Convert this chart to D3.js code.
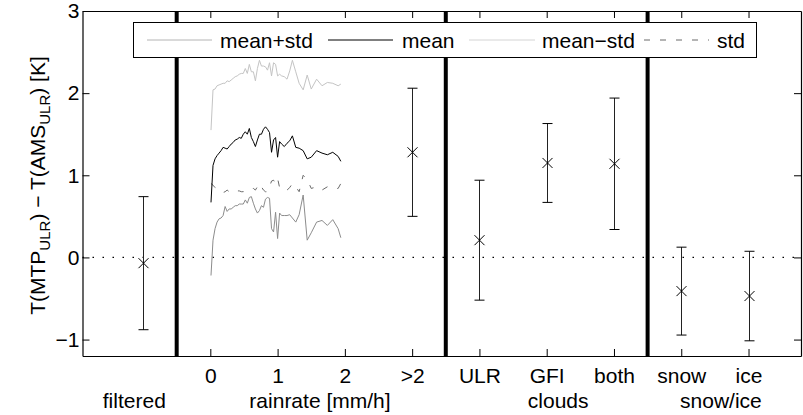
<!DOCTYPE html>
<html>
<head>
<meta charset="utf-8">
<script src="https://cdn.jsdelivr.net/npm/d3@7/dist/d3.min.js"></script>
<style>
  html, body { margin: 0; padding: 0; background: #fff; }
  svg { display: block; }
  text { font-family: "Liberation Sans", Arial, Helvetica, sans-serif; fill: #000; }
</style>
</head>
<body>
<svg id="chart" width="803" height="415"></svg>
<script>
// Rain-rate bins [mm/h] and the binned statistics of the temperature difference
const rainrate = [0.01, 0.04, 0.07, 0.10, 0.13, 0.16, 0.19, 0.22, 0.25, 0.28,
  0.31, 0.34, 0.37, 0.40, 0.43, 0.46, 0.49, 0.52, 0.55, 0.58,
  0.61, 0.64, 0.67, 0.70, 0.73, 0.76, 0.79, 0.82, 0.85, 0.88,
  0.91, 0.94, 0.97, 1.00, 1.03, 1.06, 1.10, 1.14, 1.18, 1.22,
  1.27, 1.32, 1.38, 1.44, 1.50, 1.58, 1.66, 1.74, 1.82, 1.90, 1.94];

const meanPlusStd = [1.55, 2.04, 2.05, 2.09, 2.10, 2.11, 2.12, 2.12, 2.15, 2.14,
  2.16, 2.18, 2.20, 2.21, 2.23, 2.24, 2.24, 2.30, 2.24, 2.35,
  2.26, 2.26, 2.15, 2.30, 2.40, 2.33, 2.33, 2.32, 2.28, 2.37,
  2.21, 2.37, 2.35, 2.21, 2.23, 2.21, 2.20, 2.17, 2.27, 2.40,
  2.26, 2.12, 2.04, 2.22, 2.05, 2.17, 2.09, 2.13, 2.12, 2.09, 2.11];

const meanVal = [0.67, 1.12, 1.20, 1.24, 1.27, 1.30, 1.34, 1.33, 1.32, 1.35,
  1.38, 1.40, 1.43, 1.44, 1.46, 1.45, 1.50, 1.53, 1.50, 1.57,
  1.46, 1.41, 1.35, 1.43, 1.50, 1.50, 1.56, 1.59, 1.56, 1.52,
  1.28, 1.43, 1.46, 1.22, 1.41, 1.38, 1.35, 1.39, 1.42, 1.48,
  1.34, 1.33, 1.30, 1.20, 1.22, 1.30, 1.27, 1.25, 1.28, 1.23, 1.17];

const meanMinusStd = [-0.22, 0.21, 0.35, 0.43, 0.47, 0.48, 0.51, 0.62, 0.56, 0.59,
  0.59, 0.61, 0.63, 0.63, 0.65, 0.65, 0.65, 0.70, 0.66, 0.73,
  0.74, 0.66, 0.59, 0.54, 0.57, 0.63, 0.61, 0.71, 0.73, 0.72,
  0.35, 0.31, 0.55, 0.23, 0.54, 0.51, 0.51, 0.51, 0.52, 0.48,
  0.43, 0.52, 0.76, 0.21, 0.30, 0.43, 0.45, 0.39, 0.46, 0.35, 0.24];

const stdVal = [0.90, 0.88, 0.85, 0.84, 0.82, 0.80, 0.79, 0.80, 0.82, 0.80,
  0.81, 0.81, 0.80, 0.81, 0.81, 0.80, 0.80, 0.82, 0.82, 0.83,
  0.84, 0.84, 0.82, 0.86, 0.90, 0.86, 0.82, 0.80, 0.80, 0.86,
  0.93, 0.94, 0.90, 0.96, 0.85, 0.84, 0.85, 0.82, 0.85, 0.90,
  0.86, 0.80, 1.00, 0.95, 0.84, 0.86, 0.82, 0.86, 0.84, 0.84, 0.90];

// Category statistics (mean ± std) shown as error bars
const groupPos  = [-1, 3, 4, 5, 6, 7, 8];
const groupMean = [-0.07, 1.28, 0.21, 1.15, 1.14, -0.41, -0.47];
const groupStd  = [0.81, 0.78, 0.73, 0.48, 0.80, 0.535, 0.545];

// Axis ticks, group titles and separators
const xTickValues = [0, 1, 2, 3, 4, 5, 6, 7, 8];
const xTickLabels = ["0", "1", "2", ">2", "ULR", "GFI", "both", "snow", "ice"];
const yTickValues = [-1, 0, 1, 2, 3];
const groupTitles = ["filtered", "rainrate [mm/h]", "clouds", "snow/ice"];
const groupTitlePos = [-1.13, 1.63, 5.17, 7.59];
const separators = [-0.5, 3.5, 6.5];

const legendItems = ["mean+std", "mean", "mean\u2212std", "std"];

const svg = d3.select("#chart");
const L = 82.5, R = 801, T = 11, B = 356;
const x = d3.scaleLinear().domain([-1.9, 8.78]).range([L, R]);
const y = d3.scaleLinear().domain([-1.2, 3]).range([B, T]);
const FS = 21;

// zero reference line
svg.append("line")
  .attr("x1", L).attr("x2", R).attr("y1", y(0)).attr("y2", y(0))
  .attr("stroke", "#000").attr("stroke-width", 1.2)
  .attr("stroke-dasharray", "1.5,8.5");

// rain-rate curves
const lineGen = vals => d3.line()
  .x((d, i) => x(rainrate[i]))
  .y(d => y(d))(vals);

const curves = [
  { v: meanPlusStd, c: "#c4c4c4", dash: null },
  { v: meanMinusStd, c: "#8c8c8c", dash: null },
  { v: stdVal, c: "#6a6a6a", dash: "6,10" },
  { v: meanVal, c: "#000", dash: null }
];
curves.forEach(s => {
  svg.append("path")
    .attr("d", lineGen(s.v))
    .attr("fill", "none")
    .attr("stroke", s.c)
    .attr("stroke-width", 1)
    .attr("stroke-dasharray", s.dash);
});

// error bars with cross markers
const eb = svg.append("g").attr("stroke", "#000").attr("stroke-width", 1).attr("fill", "none");
groupPos.forEach((p, i) => {
  const cx = Math.round(x(p)) + 0.5;
  const top = y(groupMean[i] + groupStd[i]);
  const bot = y(groupMean[i] - groupStd[i]);
  const cy = y(groupMean[i]);
  eb.append("line").attr("x1", cx).attr("x2", cx).attr("y1", top).attr("y2", bot).attr("stroke", "#222");
  eb.append("line").attr("x1", cx - 5).attr("x2", cx + 5).attr("y1", top).attr("y2", top);
  eb.append("line").attr("x1", cx - 5).attr("x2", cx + 5).attr("y1", bot).attr("y2", bot);
  eb.append("path").attr("d", `M${cx - 5},${cy - 5}L${cx + 5},${cy + 5}M${cx - 5},${cy + 5}L${cx + 5},${cy - 5}`);
});

// thick separators between groups
separators.forEach(s => {
  svg.append("line")
    .attr("x1", x(s)).attr("x2", x(s)).attr("y1", T).attr("y2", B)
    .attr("stroke", "#000").attr("stroke-width", 4);
});

// axes (ticks pointing inwards)
const xAxB = d3.axisBottom(x).tickValues(xTickValues)
  .tickFormat((d, i) => xTickLabels[i]).tickSizeInner(-7).tickSizeOuter(0).tickPadding(12);
const xAxT = d3.axisTop(x).tickValues(xTickValues).tickFormat("").tickSizeInner(-7).tickSizeOuter(0);
const yAxL = d3.axisLeft(y).tickValues(yTickValues).tickFormat(d3.format("d"))
  .tickSizeInner(-7).tickSizeOuter(0).tickPadding(3);
const yAxR = d3.axisRight(y).tickValues(yTickValues).tickFormat("").tickSizeInner(-7).tickSizeOuter(0);

function styleAxis(g) {
  g.selectAll("path.domain").attr("stroke", "#000").attr("stroke-width", 1.2);
  g.selectAll(".tick line").attr("stroke", "#000").attr("stroke-width", 1);
  g.selectAll(".tick text").attr("font-size", FS)
    .attr("font-family", "Liberation Sans, Arial, sans-serif").attr("fill", "#000");
}
svg.append("g").attr("transform", `translate(0,${B})`).call(xAxB).call(styleAxis);
svg.append("g").attr("transform", `translate(0,${T})`).call(xAxT).call(styleAxis);
svg.append("g").attr("transform", `translate(${L},0)`).call(yAxL).call(styleAxis);
svg.append("g").attr("transform", `translate(${R},0)`).call(yAxR).call(styleAxis);

// group titles under the tick labels
groupTitles.forEach((t, i) => {
  svg.append("text")
    .attr("x", x(groupTitlePos[i])).attr("y", 408)
    .attr("text-anchor", "middle").attr("font-size", FS)
    .text(t);
});

// y-axis title with subscripts
const yl = svg.append("text")
  .attr("transform", `translate(45,${(T + B) / 2 + 2}) rotate(-90)`)
  .attr("text-anchor", "middle").attr("font-size", FS);
yl.append("tspan").text("T(MTP");
yl.append("tspan").attr("font-size", 15).attr("dy", 5).text("ULR");
yl.append("tspan").attr("dy", -5).text(") \u2212 T(AMS");
yl.append("tspan").attr("font-size", 15).attr("dy", 5).text("ULR");
yl.append("tspan").attr("dy", -5).text(") [K]");

// legend
const lg = svg.append("g");
lg.append("rect").attr("x", 133.5).attr("y", 22.5).attr("width", 623).attr("height", 35)
  .attr("fill", "#fff").attr("stroke", "#000").attr("stroke-width", 1);
const legendSamples = [
  { x1: 147, x2: 212, tx: 220, c: "#b4b4b4", dash: null },
  { x1: 328, x2: 393, tx: 402, c: "#000", dash: null },
  { x1: 469, x2: 535, tx: 542, c: "#d4d4d4", dash: null },
  { x1: 644, x2: 709, tx: 717, c: "#6a6a6a", dash: "6,10" }
];
legendItems.forEach((name, i) => {
  const s = legendSamples[i];
  lg.append("line").attr("x1", s.x1).attr("x2", s.x2).attr("y1", 40).attr("y2", 40)
    .attr("stroke", s.c).attr("stroke-width", 1).attr("stroke-dasharray", s.dash);
  lg.append("text").attr("x", s.tx).attr("y", 47.5).attr("font-size", FS).text(name);
});
</script>
</body>
</html>
